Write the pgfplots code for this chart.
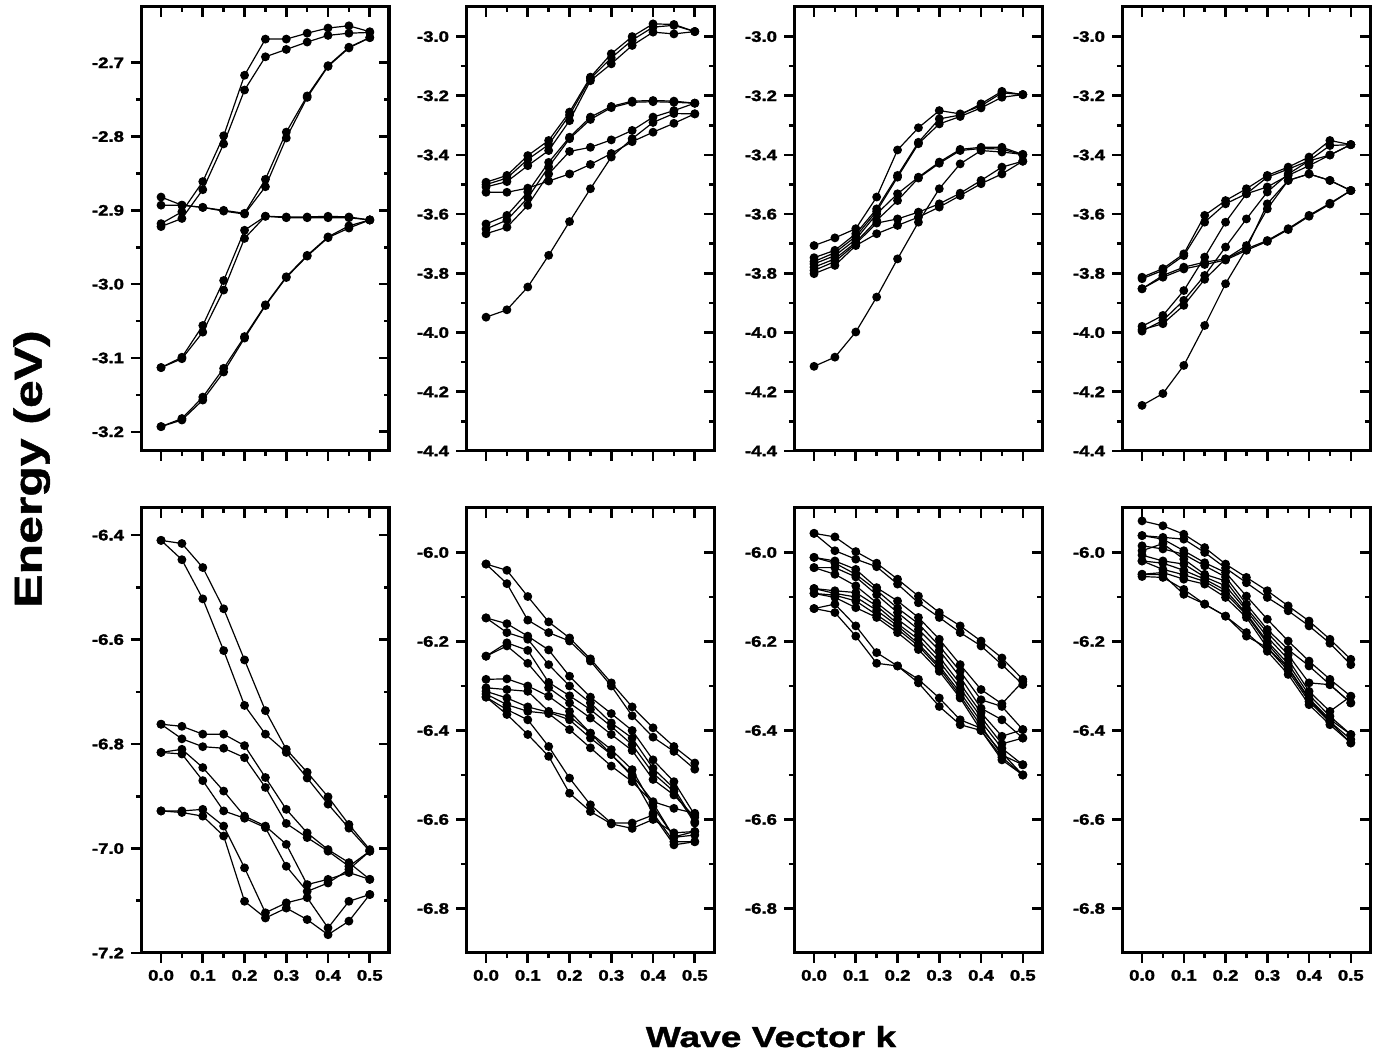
\documentclass[border=0pt]{standalone}
\usepackage{fontspec}
\setmainfont{Liberation Sans}
\newfontfamily\tickfont[UprightFont={* Bold}, FakeStretch=1.22, FakeBold=2]{Liberation Sans}
\newfontfamily\titlefont[UprightFont={* Bold}, FakeStretch=1.28, FakeBold=1.2]{Liberation Sans}
\usepackage{pgfplots}
\usepackage{pgfplotstable}
\pgfplotsset{compat=1.18}

% rows = bands, columns = k
\pgfplotstableread{
name 0 0.05 0.1 0.15 0.2 0.25 0.3 0.35 0.4 0.45 0.5
c1 -3.193 -3.182 -3.153 -3.114 -3.071 -3.028 -2.990 -2.961 -2.936 -2.921 -2.913
c2 -3.193 -3.184 -3.157 -3.119 -3.073 -3.029 -2.991 -2.962 -2.937 -2.924 -2.913
c3 -3.113 -3.099 -3.056 -2.995 -2.927 -2.908 -2.909 -2.909 -2.908 -2.909 -2.913
c4 -3.113 -3.101 -3.065 -3.008 -2.938 -2.908 -2.910 -2.910 -2.910 -2.910 -2.913
c5 -2.893 -2.893 -2.896 -2.900 -2.904 -2.858 -2.794 -2.745 -2.704 -2.679 -2.666
c6 -2.882 -2.893 -2.896 -2.901 -2.905 -2.868 -2.802 -2.747 -2.705 -2.680 -2.666
c7 -2.918 -2.902 -2.861 -2.799 -2.717 -2.668 -2.668 -2.660 -2.653 -2.650 -2.658
c8 -2.922 -2.911 -2.872 -2.810 -2.737 -2.692 -2.682 -2.672 -2.663 -2.660 -2.659
}\rawA
\pgfplotstableread{
name 0 0.05 0.1 0.15 0.2 0.25 0.3 0.35 0.4 0.45 0.5
c1 -3.492 -3.469 -3.402 -3.351 -3.255 -3.137 -3.058 -3.000 -2.957 -2.959 -2.983
c2 -3.500 -3.478 -3.415 -3.365 -3.265 -3.142 -3.072 -3.012 -2.968 -2.962 -2.983
c3 -3.508 -3.490 -3.436 -3.385 -3.284 -3.149 -3.092 -3.030 -2.985 -2.991 -2.983
c4 -3.526 -3.526 -3.512 -3.488 -3.464 -3.432 -3.395 -3.355 -3.323 -3.293 -3.261
c5 -3.633 -3.604 -3.525 -3.425 -3.340 -3.272 -3.236 -3.218 -3.216 -3.218 -3.225
c6 -3.650 -3.620 -3.545 -3.440 -3.345 -3.280 -3.240 -3.222 -3.220 -3.222 -3.225
c7 -3.666 -3.644 -3.570 -3.464 -3.388 -3.374 -3.349 -3.317 -3.272 -3.250 -3.225
c8 -3.948 -3.923 -3.846 -3.739 -3.625 -3.514 -3.407 -3.345 -3.290 -3.260 -3.261
}\rawB
\pgfplotstableread{
name 0 0.05 0.1 0.15 0.2 0.25 0.3 0.35 0.4 0.45 0.5
c1 -3.706 -3.680 -3.649 -3.542 -3.383 -3.308 -3.250 -3.261 -3.234 -3.190 -3.196
c2 -3.747 -3.722 -3.666 -3.582 -3.469 -3.357 -3.278 -3.265 -3.227 -3.185 -3.196
c3 -3.760 -3.730 -3.675 -3.590 -3.475 -3.362 -3.295 -3.270 -3.241 -3.205 -3.196
c4 -3.768 -3.740 -3.685 -3.599 -3.531 -3.475 -3.424 -3.381 -3.374 -3.374 -3.398
c5 -3.779 -3.751 -3.695 -3.621 -3.554 -3.478 -3.428 -3.385 -3.378 -3.380 -3.400
c6 -3.790 -3.760 -3.700 -3.630 -3.616 -3.593 -3.565 -3.529 -3.486 -3.441 -3.421
c7 -3.801 -3.773 -3.706 -3.666 -3.638 -3.610 -3.576 -3.537 -3.497 -3.464 -3.421
c8 -4.114 -4.083 -3.998 -3.880 -3.751 -3.627 -3.514 -3.430 -3.385 -3.390 -3.398
}\rawC
\pgfplotstableread{
name 0 0.05 0.1 0.15 0.2 0.25 0.3 0.35 0.4 0.45 0.5
c1 -3.813 -3.784 -3.734 -3.604 -3.554 -3.514 -3.469 -3.441 -3.407 -3.351 -3.365
c2 -3.818 -3.790 -3.740 -3.627 -3.565 -3.531 -3.475 -3.448 -3.419 -3.368 -3.365
c3 -3.852 -3.807 -3.779 -3.762 -3.751 -3.717 -3.689 -3.649 -3.604 -3.563 -3.520
c4 -3.852 -3.813 -3.785 -3.770 -3.755 -3.722 -3.692 -3.652 -3.607 -3.566 -3.520
c5 -3.979 -3.942 -3.858 -3.745 -3.627 -3.531 -3.508 -3.469 -3.436 -3.400 -3.365
c6 -3.995 -3.959 -3.891 -3.807 -3.711 -3.616 -3.525 -3.464 -3.420 -3.400 -3.365
c7 -3.990 -3.970 -3.908 -3.820 -3.751 -3.706 -3.582 -3.486 -3.464 -3.486 -3.520
c8 -4.246 -4.206 -4.111 -3.976 -3.835 -3.717 -3.565 -3.486 -3.464 -3.486 -3.520
}\rawD
\pgfplotstableread{
name 0 0.05 0.1 0.15 0.2 0.25 0.3 0.35 0.4 0.45 0.5
c1 -6.410 -6.416 -6.462 -6.541 -6.639 -6.736 -6.810 -6.854 -6.901 -6.954 -7.002
c2 -6.410 -6.447 -6.522 -6.621 -6.726 -6.781 -6.816 -6.865 -6.915 -6.961 -7.005
c3 -6.762 -6.766 -6.781 -6.781 -6.803 -6.864 -6.925 -6.970 -7.002 -7.027 -7.059
c4 -6.762 -6.790 -6.805 -6.808 -6.826 -6.883 -6.952 -6.979 -7.005 -7.034 -7.005
c5 -6.816 -6.810 -6.845 -6.890 -6.938 -6.957 -6.992 -7.069 -7.059 -7.046 -7.059
c6 -6.816 -6.819 -6.870 -6.928 -6.942 -6.960 -7.034 -7.082 -7.066 -7.040 -7.005
c7 -6.928 -6.928 -6.925 -6.957 -7.037 -7.123 -7.104 -7.094 -7.152 -7.101 -7.088
c8 -6.928 -6.931 -6.938 -6.976 -7.101 -7.133 -7.114 -7.136 -7.165 -7.139 -7.088
}\rawE
\pgfplotstableread{
name 0 0.05 0.1 0.15 0.2 0.25 0.3 0.35 0.4 0.45 0.5
c1 -6.026 -6.040 -6.099 -6.156 -6.192 -6.239 -6.293 -6.347 -6.394 -6.436 -6.473
c2 -6.026 -6.070 -6.152 -6.180 -6.199 -6.244 -6.300 -6.367 -6.415 -6.447 -6.487
c3 -6.147 -6.160 -6.188 -6.219 -6.278 -6.325 -6.362 -6.400 -6.466 -6.515 -6.590
c4 -6.147 -6.180 -6.195 -6.252 -6.300 -6.338 -6.383 -6.417 -6.485 -6.530 -6.605
c5 -6.233 -6.203 -6.220 -6.292 -6.322 -6.353 -6.391 -6.432 -6.496 -6.537 -6.608
c6 -6.233 -6.210 -6.249 -6.304 -6.338 -6.372 -6.409 -6.445 -6.510 -6.545 -6.595
c7 -6.285 -6.284 -6.300 -6.323 -6.357 -6.406 -6.454 -6.500 -6.560 -6.575 -6.586
c8 -6.304 -6.308 -6.312 -6.357 -6.368 -6.406 -6.443 -6.488 -6.571 -6.639 -6.627
c9 -6.312 -6.327 -6.347 -6.359 -6.376 -6.417 -6.454 -6.503 -6.586 -6.650 -6.650
c10 -6.318 -6.342 -6.357 -6.362 -6.398 -6.439 -6.480 -6.515 -6.563 -6.640 -6.635
c11 -6.325 -6.353 -6.376 -6.436 -6.507 -6.567 -6.608 -6.608 -6.590 -6.657 -6.650
c12 -6.325 -6.364 -6.409 -6.458 -6.541 -6.582 -6.610 -6.620 -6.600 -6.630 -6.627
}\rawF
\pgfplotstableread{
name 0 0.05 0.1 0.15 0.2 0.25 0.3 0.35 0.4 0.45 0.5
c1 -5.957 -5.965 -5.998 -6.024 -6.060 -6.098 -6.135 -6.165 -6.199 -6.237 -6.285
c2 -5.957 -5.996 -6.015 -6.032 -6.071 -6.113 -6.146 -6.180 -6.210 -6.252 -6.297
c3 -6.011 -6.019 -6.038 -6.079 -6.109 -6.146 -6.195 -6.252 -6.308 -6.340 -6.290
c4 -6.011 -6.024 -6.049 -6.085 -6.125 -6.160 -6.210 -6.267 -6.331 -6.346 -6.398
c5 -6.034 -6.034 -6.055 -6.095 -6.135 -6.173 -6.220 -6.280 -6.350 -6.376 -6.417
c6 -6.034 -6.049 -6.075 -6.113 -6.150 -6.185 -6.235 -6.295 -6.360 -6.413 -6.398
c7 -6.081 -6.086 -6.090 -6.120 -6.160 -6.195 -6.245 -6.305 -6.370 -6.430 -6.417
c8 -6.081 -6.092 -6.100 -6.130 -6.165 -6.205 -6.255 -6.315 -6.380 -6.440 -6.477
c9 -6.092 -6.096 -6.109 -6.140 -6.172 -6.210 -6.260 -6.322 -6.390 -6.455 -6.477
c10 -6.092 -6.101 -6.124 -6.146 -6.180 -6.218 -6.267 -6.327 -6.400 -6.466 -6.500
c11 -6.126 -6.116 -6.165 -6.225 -6.255 -6.285 -6.327 -6.376 -6.395 -6.450 -6.500
c12 -6.126 -6.135 -6.188 -6.249 -6.255 -6.293 -6.346 -6.387 -6.400 -6.460 -6.500
}\rawG
\pgfplotstableread{
name 0 0.05 0.1 0.15 0.2 0.25 0.3 0.35 0.4 0.45 0.5
c1 -5.929 -5.940 -5.959 -5.989 -6.026 -6.056 -6.086 -6.120 -6.154 -6.195 -6.240
c2 -5.962 -5.966 -5.970 -6.000 -6.035 -6.068 -6.101 -6.131 -6.165 -6.204 -6.252
c3 -5.962 -5.970 -5.996 -6.023 -6.045 -6.098 -6.150 -6.199 -6.244 -6.285 -6.323
c4 -5.985 -5.992 -6.004 -6.030 -6.055 -6.116 -6.173 -6.218 -6.255 -6.297 -6.338
c5 -5.996 -5.980 -6.015 -6.049 -6.064 -6.125 -6.180 -6.230 -6.293 -6.297 -6.338
c6 -6.006 -6.019 -6.026 -6.055 -6.075 -6.130 -6.190 -6.240 -6.312 -6.357 -6.323
c7 -6.019 -6.024 -6.040 -6.060 -6.085 -6.137 -6.200 -6.250 -6.320 -6.368 -6.409
c8 -6.019 -6.038 -6.050 -6.065 -6.092 -6.140 -6.205 -6.258 -6.328 -6.375 -6.409
c9 -6.049 -6.045 -6.060 -6.071 -6.101 -6.146 -6.214 -6.266 -6.335 -6.381 -6.428
c10 -6.054 -6.056 -6.083 -6.116 -6.143 -6.180 -6.222 -6.274 -6.342 -6.387 -6.428
c11 -6.049 -6.050 -6.094 -6.116 -6.143 -6.188 -6.214 -6.260 -6.330 -6.380 -6.420
}\rawH

\pgfplotstabletranspose[colnames from=name, input colnames to=k]\tA\rawA
\pgfplotstabletranspose[colnames from=name, input colnames to=k]\tB\rawB
\pgfplotstabletranspose[colnames from=name, input colnames to=k]\tC\rawC
\pgfplotstabletranspose[colnames from=name, input colnames to=k]\tD\rawD
\pgfplotstabletranspose[colnames from=name, input colnames to=k]\tE\rawE
\pgfplotstabletranspose[colnames from=name, input colnames to=k]\tF\rawF
\pgfplotstabletranspose[colnames from=name, input colnames to=k]\tG\rawG
\pgfplotstabletranspose[colnames from=name, input colnames to=k]\tH\rawH

\pgfplotsset{
  panel/.style={scale only axis, width=124bp, anchor=south west,
    xmin=-0.048, xmax=0.546, xtick={0,0.1,0.2,0.3,0.4,0.5},
    minor x tick num=1, minor y tick num=1,
    axis line style={line width=1.5bp},
    tick style={black, line width=1.3bp},
    major tick length=5bp, minor tick length=2.6bp,
    ticklabel style={font=\tickfont\fontsize{7.6bp}{8.5bp}\selectfont},
    /pgf/number format/fixed, /pgf/number format/precision=1,
    /pgf/number format/fixed zerofill, /pgf/number format/assume math mode=true},
  front/.style={panel, xtick pos=left, ytick pos=left, tick align=outside},
  back/.style={panel, xtick pos=right, ytick pos=right, tick align=inside,
    xticklabels={}, yticklabels={}},
  toprow/.style={height=222bp, ymin=-4.4, ymax=-2.9,
    ytick={-4.4,-4.2,-4.0,-3.8,-3.6,-3.4,-3.2,-3.0}},
  botrow/.style={height=222.5bp, ymin=-6.9, ymax=-5.9,
    ytick={-6.8,-6.6,-6.4,-6.2,-6.0}},
  band/.style={black, line width=0.6bp, mark=*, mark size=1.9bp,
    mark options={solid, fill=black}},
}

\begin{document}
\begin{tikzpicture}
\useasboundingbox (0,0) rectangle (691.5bp,530.5bp);

% ---- top row ----
\begin{axis}[back, at={(70.5bp,305bp)}, height=222bp, ymin=-3.226, ymax=-2.6245,
  ytick={-3.2,-3.1,-3.0,-2.9,-2.8,-2.7}]
\end{axis}
\begin{axis}[front, at={(70.5bp,305bp)}, height=222bp, ymin=-3.226, ymax=-2.6245,
  ytick={-3.2,-3.1,-3.0,-2.9,-2.8,-2.7}, xticklabels={}]
\pgfplotsinvokeforeach{1,...,8}{\addplot[band] table[x=k, y=c#1] {\tA};}
\end{axis}

\begin{axis}[back, toprow, at={(233bp,305bp)}]
\end{axis}
\begin{axis}[front, toprow, at={(233bp,305bp)}, xticklabels={}]
\pgfplotsinvokeforeach{1,...,8}{\addplot[band] table[x=k, y=c#1] {\tB};}
\end{axis}

\begin{axis}[back, toprow, at={(397bp,305bp)}]
\end{axis}
\begin{axis}[front, toprow, at={(397bp,305bp)}, xticklabels={}]
\pgfplotsinvokeforeach{1,...,8}{\addplot[band] table[x=k, y=c#1] {\tC};}
\end{axis}

\begin{axis}[back, toprow, at={(561bp,305bp)}]
\end{axis}
\begin{axis}[front, toprow, at={(561bp,305bp)}, xticklabels={}]
\pgfplotsinvokeforeach{1,...,8}{\addplot[band] table[x=k, y=c#1] {\tD};}
\end{axis}

% ---- bottom row ----
\begin{axis}[back, at={(70.5bp,54bp)}, height=222.5bp, ymin=-7.2, ymax=-6.348,
  ytick={-7.2,-7.0,-6.8,-6.6,-6.4}]
\end{axis}
\begin{axis}[front, at={(70.5bp,54bp)}, height=222.5bp, ymin=-7.2, ymax=-6.348,
  ytick={-7.2,-7.0,-6.8,-6.6,-6.4}]
\pgfplotsinvokeforeach{1,...,8}{\addplot[band] table[x=k, y=c#1] {\tE};}
\end{axis}

\begin{axis}[back, botrow, at={(233bp,54bp)}]
\end{axis}
\begin{axis}[front, botrow, at={(233bp,54bp)}]
\pgfplotsinvokeforeach{1,...,12}{\addplot[band] table[x=k, y=c#1] {\tF};}
\end{axis}

\begin{axis}[back, botrow, at={(397bp,54bp)}]
\end{axis}
\begin{axis}[front, botrow, at={(397bp,54bp)}]
\pgfplotsinvokeforeach{1,...,12}{\addplot[band] table[x=k, y=c#1] {\tG};}
\end{axis}

\begin{axis}[back, botrow, at={(561bp,54bp)}]
\end{axis}
\begin{axis}[front, botrow, at={(561bp,54bp)}]
\pgfplotsinvokeforeach{1,...,11}{\addplot[band] table[x=k, y=c#1] {\tH};}
\end{axis}

\node[rotate=90, anchor=base, inner sep=0pt,
  font=\titlefont\fontsize{19.5bp}{22bp}\selectfont] at (20.85bp,296bp) {Energy (eV)};
\node[anchor=base, inner sep=0pt,
  font=\titlefont\fontsize{14.5bp}{17bp}\selectfont] at (385.5bp,7bp) {Wave Vector k};
\end{tikzpicture}
\end{document}
